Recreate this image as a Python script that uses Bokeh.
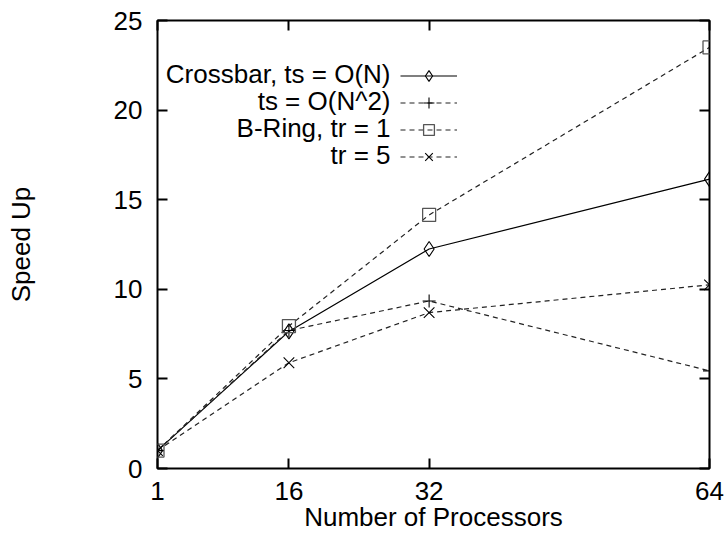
from bokeh.plotting import figure
from bokeh.models import FixedTicker, LinearAxis, Legend, LegendItem, Range1d, Label
from bokeh.embed import file_html
from bokeh.resources import INLINE

# ---- data ----
processors = [1, 16, 32, 64]
crossbar_n = [1.0, 7.65, 12.25, 16.15]
crossbar_n2 = [1.0, 7.7, 9.35, 5.45]
bring_tr1 = [1.0, 7.95, 14.15, 23.5]
bring_tr5 = [1.0, 5.9, 8.7, 10.25]
series_labels = ["Crossbar, ts = O(N)", "ts = O(N^2)", "B-Ring, tr = 1", "tr = 5"]
x_ticks = [1, 16, 32, 64]
y_ticks = [0, 5, 10, 15, 20, 25]

FONT = "Liberation Sans"
FS = "26px"

p = figure(width=724, height=536, output_backend="svg", toolbar_location=None,
           x_range=Range1d(1, 64), y_range=Range1d(0, 25),
           min_border_left=157, min_border_right=15, min_border_top=20, min_border_bottom=68)
p.grid.visible = False
p.background_fill_color = "white"
p.border_fill_color = "white"
p.outline_line_color = "black"
p.outline_line_width = 2

def style_axis(ax, show_labels=True):
    ax.axis_line_color = None
    ax.major_tick_in = 10
    ax.major_tick_out = 0
    ax.major_tick_line_color = "black"
    ax.major_tick_line_width = 2
    ax.minor_tick_line_color = None
    ax.major_label_text_font = FONT
    ax.major_label_text_font_size = FS if show_labels else "1px"
    ax.major_label_text_color = "black" if show_labels else None
    ax.axis_label_text_font = FONT
    ax.axis_label_text_font_size = FS
    ax.axis_label_text_font_style = "normal"
    ax.axis_label_text_color = "black"
    if not show_labels:
        ax.major_label_standoff = 0

p.xaxis.ticker = FixedTicker(ticks=x_ticks)
p.yaxis.ticker = FixedTicker(ticks=y_ticks)
style_axis(p.xaxis[0])
style_axis(p.yaxis[0])
p.xaxis.axis_label = "Number of Processors"
p.yaxis.axis_label = "Speed Up"
p.xaxis.major_label_standoff = 13
p.xaxis.axis_label_standoff = -1
p.yaxis.major_label_standoff = 15
p.yaxis.axis_label_standoff = 75

top = LinearAxis(ticker=FixedTicker(ticks=x_ticks))
style_axis(top, False)
right = LinearAxis(ticker=FixedTicker(ticks=y_ticks))
style_axis(right, False)
p.add_layout(top, "above")
p.add_layout(right, "right")

DASH = "5 4"
l1 = p.line(processors, crossbar_n, line_color="black", line_width=1.2)
m1 = p.scatter(processors, crossbar_n, marker="diamond", size=15,
               fill_color=None, line_color="black", line_width=1.1)
l2 = p.line(processors, crossbar_n2, line_color="#222222", line_width=1.2, line_dash=DASH)
m2 = p.scatter(processors, crossbar_n2, marker="cross", size=13, line_color="black", line_width=1.1)
l3 = p.line(processors, bring_tr1, line_color="#222222", line_width=1.2, line_dash=DASH)
m3 = p.scatter(processors, bring_tr1, marker="square", size=13, fill_color=None,
               line_color="#555555", line_width=1.3)
l4 = p.line(processors, bring_tr5, line_color="#222222", line_width=1.2, line_dash=DASH)
m4 = p.scatter(processors, bring_tr5, marker="x", size=15, line_color="black", line_width=1.1)

# legend keys (glyph samples) – labels drawn separately to the left, right-aligned
legend = Legend(items=[
    LegendItem(label="", renderers=[l1, m1]),
    LegendItem(label="", renderers=[l2, m2]),
    LegendItem(label="", renderers=[l3, m3]),
    LegendItem(label="", renderers=[l4, m4]),
], location=(243, 298))
legend.border_line_color = None
legend.background_fill_alpha = 0
legend.padding = 0
legend.margin = 0
legend.spacing = 0
legend.glyph_width = 57
legend.glyph_height = 27
legend.label_height = 27
legend.label_standoff = 0
legend.label_text_font_size = "1px"
legend.label_text_color = None
p.add_layout(legend, "center")

for i, txt in enumerate(series_labels):
    p.add_layout(Label(x=233, y=395 - 27 * i, x_units="screen", y_units="screen",
                       text=txt, text_align="right", text_baseline="middle",
                       text_font=FONT, text_font_size=FS, text_color="black"))

open("out.html", "w").write(file_html(p, INLINE))
